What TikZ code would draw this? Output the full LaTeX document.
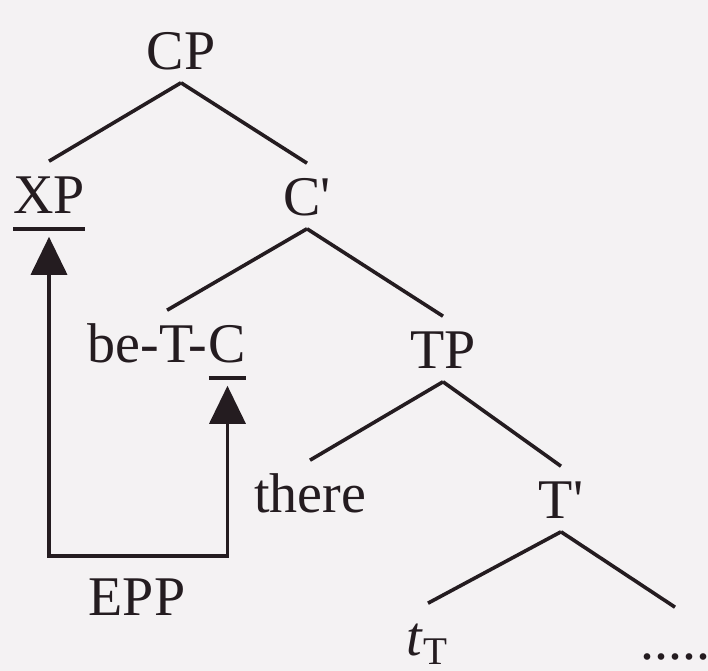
\documentclass[tikz,border=0pt]{standalone}
\usepackage{fontspec}
\setmainfont{Liberation Serif}
\usepackage{xcolor}
\usepackage{tikz}
\usetikzlibrary{arrows.meta,calc}

\definecolor{paper}{RGB}{244,242,243}
\definecolor{ink}{RGB}{36,28,32}

% underline for a moved category
\newcommand{\moveul}[1]{\vtop{\hbox{#1}\kern3.2pt\hrule height 1pt}}

\begin{document}
\begin{tikzpicture}[x=0.25pt,y=-0.25pt,
    every node/.style={font=\fontsize{14}{16}\selectfont,text=ink},
    cat/.style    ={anchor=base,inner xsep=0pt,inner ysep=3pt,
                    text height=10pt,text depth=0pt},
    moved/.style  ={cat,text depth=2.5pt},
    eppnode/.style={cat,inner ysep=4.75pt},
    branch/.style ={-,ink,line width=0.9pt},
    move/.style   ={{Triangle[length=9.5pt,width=9pt]}-{Triangle[length=9.5pt,width=9pt]},
                    ink,line width=0.9pt},
  ]
  \fill[paper] (0,0) rectangle (708,671);
  \useasboundingbox (0,0) rectangle (708,671);

  % --- tree nodes ---
  \node[cat]   (cp)    at (181,70)  {CP};
  \node[moved] (xp)    at (49,214)  {\moveul{XP}};
  \node[cat]   (cbar)  at (307,216) {C\textquotesingle};
  \node[cat,anchor=base east]    (betc)  at (208,363) {be-T-};
  \node[moved,anchor=base west]  (cmove) at (208,363) {\moveul{C}};
  \node[cat]   (tp)    at (443,369) {TP};
  \node[cat]   (there) at (310,513) {there};
  \node[cat]   (tbar)  at (561,519) {T\textquotesingle};
  \node[cat]   (tt)    at (428,656) {\textit{t}\textsubscript{T}};
  \node[cat]   (dots)  at (675,660) {.....};

  % branches
  \draw[branch] (cp.south) -- (xp.north);
  \draw[branch] (cp.south) -- (cbar.north);
  \draw[branch] (cbar.south) -- ($(betc.north west)!0.5!(cmove.north east)$);
  \draw[branch] (cbar.south) -- (tp.north);
  \draw[branch] (tp.south) -- (there.north);
  \draw[branch] (tp.south) -- (tbar.north);
  \draw[branch] (tbar.south) -- (tt.north);
  \draw[branch] (tbar.south) -- (dots.north);

  % --- EPP movement ---
  \node[eppnode] (epp) at (137,616) {EPP};
  \draw[move] (xp.south) |- (epp.north) -| (cmove.south);
\end{tikzpicture}
\end{document}
